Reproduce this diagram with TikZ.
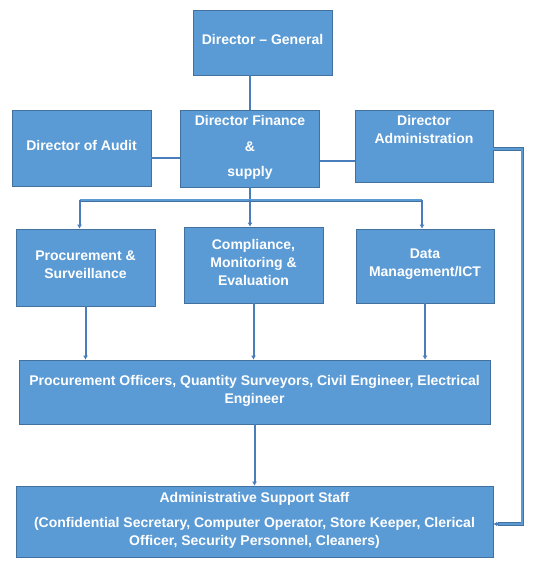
\documentclass[tikz,border=0pt]{standalone}
\usepackage{fontspec}
\setmainfont{Liberation Sans}
\usetikzlibrary{arrows.meta, positioning}
\definecolor{boxfill}{HTML}{5B9BD5}
\definecolor{boxline}{HTML}{41719C}
\definecolor{linkblue}{HTML}{4A7EBB}
\tikzset{%
>={Latex[width=5pt,length=4pt]},
  % Specifications for style of boxes and lines:
            box/.style = {rectangle, draw=boxline, line width=0.7pt,
                            fill=boxfill, text=white, align=center, inner sep=0pt,
                            font=\fontsize{14}{18}\selectfont\bfseries,
                            execute at end node={\rule[-6pt]{0pt}{0pt}}},
            txt/.style = {text=white, align=center, inner sep=0pt,
                            font=\fontsize{14}{18}\selectfont\bfseries},
            link/.style = {draw=linkblue, line width=2pt},
            rail/.style = {draw=boxline, line width=0.6pt, double=boxfill, double distance=2.2pt},
            feed/.style = {->, draw=linkblue, line width=2pt}
}
\begin{document}
\begin{tikzpicture}[x=1pt, y=-1pt]
                        \useasboundingbox (0,0) rectangle (546,569);
                        % top levels
                        \node[box, minimum width=139pt, minimum height=65pt] (dg) at (262.5,42.5) {Director -- General};
                        \node[box, minimum width=139pt, minimum height=76pt] (audit) at (81.5,148) {Director of Audit};
                        \node[box, minimum width=139pt, minimum height=77pt] (fin) at (250,148.5) {Director Finance\\[8pt]\&\\[7pt]supply};
                        \node[box, minimum width=138pt, minimum height=72pt] (admin) at (424,146) {};
                        \node[txt, below=6pt of admin.north] (admintxt) {Director\\Administration};
                        % units
                        \node[box, minimum width=139pt, minimum height=77pt] (proc) at (85.5,267.5) {Procurement \&\\Surveillance};
                        \node[box, minimum width=139pt, minimum height=76pt] (comp) at (253.5,265) {Compliance,\\Monitoring \&\\Evaluation};
                        \node[box, minimum width=138pt, minimum height=74pt] (data) at (425,266) {Data\\Management/ICT};
                        % staff
                        \node[box, minimum width=471pt, minimum height=64pt] (off) at (254.5,392) {Procurement Officers, Quantity Surveyors, Civil Engineer, Electrical\\Engineer};
                        \node[box, minimum width=477pt, minimum height=71pt] (sup) at (254.5,521.5) {Administrative Support Staff\\[7pt](Confidential Secretary, Computer Operator, Store Keeper, Clerical\\Officer, Security Personnel, Cleaners)};

                        \coordinate[yshift=-10pt] (aud) at (audit.east);
                        \coordinate[yshift=-15pt] (adm) at (admin.west);
                        \coordinate[yshift=-13pt] (split) at (fin.south);
                        \coordinate[xshift=-6pt] (pin) at (proc.north);
                        \coordinate[xshift=-3pt] (din) at (data.north);
                        \coordinate[yshift=-3pt] (aout) at (admin.east);
                        \coordinate[xshift=29pt] (bend) at (aout);
                        \coordinate[yshift=-2.5pt] (sin) at (sup.east);

                        \draw[link] (dg.south -| fin.north) -- (fin.north);
                        \draw[link] (aud) -- (aud -| fin.west);
                        \draw[link] (adm) -- (adm -| fin.east);
                        \draw[link] (fin.south) -- (split);
                        \draw[rail] (split -| pin) -- (split -| din);
                        \draw[feed] (split -| pin) -- (pin);
                        \draw[feed] (split) -- (split |- comp.north);
                        \draw[feed] (split -| din) -- (din);
                        \foreach \u in {proc, comp, data}{
                            \draw[feed] (\u.south) -- (\u.south |- off.north);
                        }
                        \draw[feed] (off.south) -- (off.south |- sup.north);
                        \draw[rail] (aout) -- (bend) |- ([xshift=5pt]sin);
                        \draw[feed] ([xshift=6pt]sin) -- (sin);
                    \end{tikzpicture}
\end{document}
